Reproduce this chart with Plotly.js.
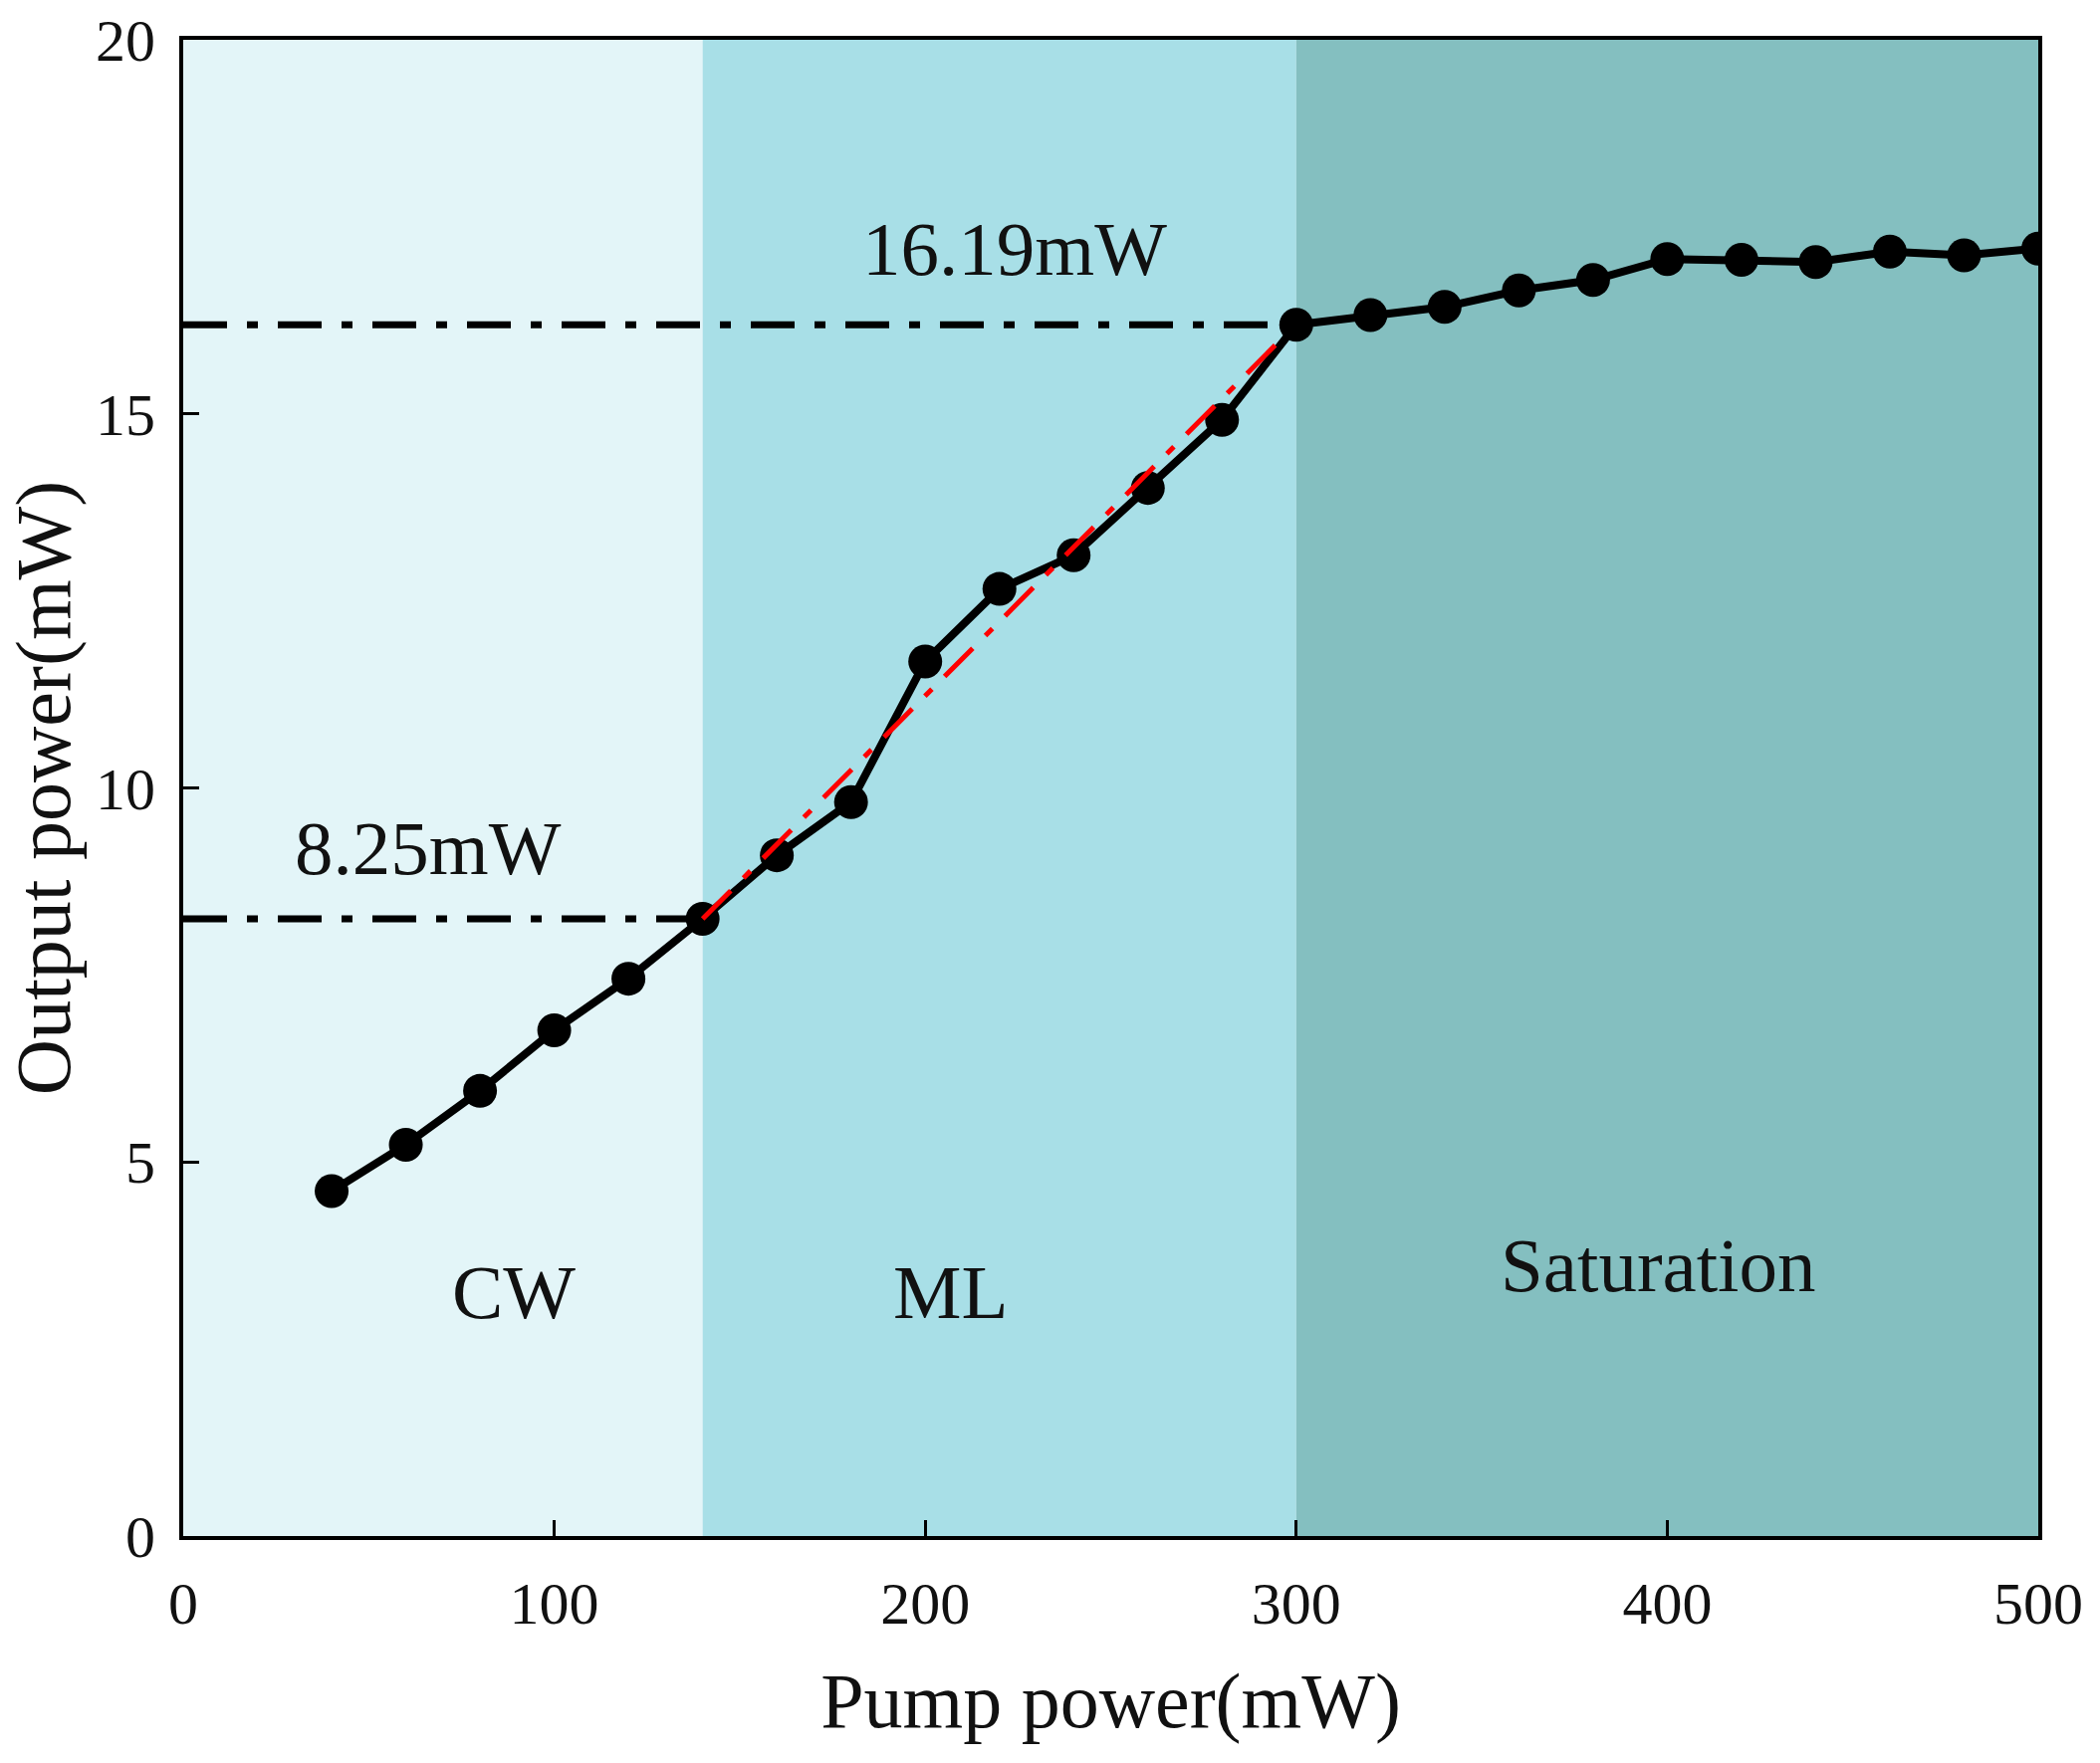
<!DOCTYPE html>
<html>
<head>
<meta charset="utf-8">
<script src="https://cdn.plot.ly/plotly-3.0.1.min.js"></script>
<style>
  html, body { margin: 0; padding: 0; background: #fff; }
  #chart { width: 2109px; height: 1771px; }
</style>
</head>
<body>
<div id="chart"></div>
<script>
// pump power sweep: output power vs pump power, three operating regions

const pumpPower = [40, 60, 80, 100, 120, 140, 160, 180, 200, 220, 240, 260, 280,
                   300, 320, 340, 360, 380, 400, 420, 440, 460, 480, 500];
const outputPower = [4.61, 5.23, 5.95, 6.76, 7.45, 8.25, 9.10, 9.81, 11.69, 12.66, 13.11, 14.01, 14.92,
                     16.19, 16.32, 16.43, 16.65, 16.79, 17.07, 17.06, 17.03, 17.17, 17.12, 17.21];

// region boundaries (mW of pump) and names
const regionEdges = [0, 140, 300, 500];
const regionNames = ["CW", "ML", "Saturation"];
const regionColors = ["#E3F5F8", "#A8DFE7", "#84BFC0"];

// threshold markers
const thresholdLow = 8.25;
const thresholdHigh = 16.19;

// linear fit over the ML region
const fitX = [140, 296];
const fitY = [8.25, 16.0];

const xTicks = [0, 100, 200, 300, 400, 500];
const yTicks = [0, 5, 10, 15, 20];

const FONT = "Liberation Serif, Times New Roman, serif";
const INK = "#111";

const dashDot = "44px,20px,11px,20px";

const traces = [
    {
        type: "scatter", mode: "lines",
        x: [regionEdges[0], regionEdges[1]], y: [thresholdLow, thresholdLow],
        line: { color: "#000", width: 7, dash: dashDot },
        hoverinfo: "skip"
    },
    {
        type: "scatter", mode: "lines",
        x: [regionEdges[0], regionEdges[2]], y: [thresholdHigh, thresholdHigh],
        line: { color: "#000", width: 7, dash: dashDot },
        hoverinfo: "skip"
    },
    {
        type: "scatter", mode: "lines+markers",
        x: pumpPower, y: outputPower,
        line: { color: "#000", width: 8 },
        marker: { color: "#000", size: 34 }
    },
    {
        type: "scatter", mode: "lines",
        x: fitX, y: fitY,
        line: { color: "#FF0000", width: 5, dash: "40px,18px,10px,18px" },
        hoverinfo: "skip"
    }
];

const shapes = regionColors.map((c, i) => ({
    type: "rect", layer: "below",
    xref: "x", yref: "paper",
    x0: regionEdges[i], x1: regionEdges[i + 1], y0: 0, y1: 1,
    fillcolor: c, line: { width: 0 }
}));

const labelFont = { family: FONT, size: 77, color: INK };

const annotations = [
    { x: 224, y: 17.2, text: thresholdHigh + "mW" },
    { x: 66, y: 9.2, text: thresholdLow + "mW" },
    { x: 89, y: 3.26, text: regionNames[0] },
    { x: 207, y: 3.26, text: regionNames[1] },
    { x: 397.5, y: 3.62, text: regionNames[2] }
].map(a => Object.assign(a, {
    xref: "x", yref: "y", showarrow: false, font: labelFont
}));

const axisCommon = {
    showgrid: false,
    zeroline: false,
    showline: true,
    linecolor: "#000",
    linewidth: 4,
    mirror: true,
    ticks: "inside",
    ticklen: 16,
    tickwidth: 3,
    tickcolor: "#000",
    tickfont: { family: FONT, size: 60, color: INK },
    ticklabelstandoff: 12,
    fixedrange: true
};

const layout = {
    width: 2109,
    height: 1771,
    margin: { l: 184, r: 62, t: 40, b: 228 },
    paper_bgcolor: "#fff",
    plot_bgcolor: "#fff",
    showlegend: false,
    font: { family: FONT, color: INK },
    xaxis: Object.assign({}, axisCommon, {
        range: [0, 500],
        tickvals: xTicks,
        title: { text: "Pump power(mW)", font: { family: FONT, size: 78, color: INK }, standoff: 38 }
    }),
    yaxis: Object.assign({}, axisCommon, {
        range: [0, 20],
        tickvals: yTicks,
        title: { text: "Output power(mW)", font: { family: FONT, size: 78, color: INK }, standoff: 18 }
    }),
    shapes: shapes,
    annotations: annotations
};

Plotly.newPlot("chart", traces, layout, { displayModeBar: false, staticPlot: true });
</script>
</body>
</html>
